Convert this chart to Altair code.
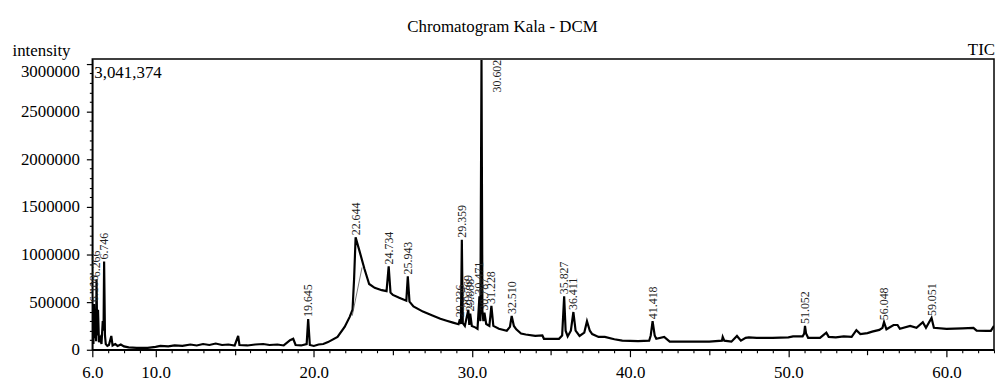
import altair as alt
import pandas as pd

title_text = "Chromatogram Kala - DCM"
y_title = "intensity"
max_label = "3,041,374"
tic_text = "TIC"

# unlabeled trace points (retention time in min, intensity)
base_t = [6.00, 6.04, 6.07, 6.15, 6.20, 6.24, 6.31, 6.36, 6.42, 6.50, 6.58, 6.66, 6.71,
          6.80, 6.85, 6.95, 7.05, 7.20, 7.28, 7.45, 7.60, 7.80, 8.00, 8.30, 8.80, 9.50,
          10.0, 10.3, 10.8, 11.2, 11.7, 12.2, 12.6, 13.0, 13.4, 13.8, 14.2, 14.6, 15.0,
          15.22, 15.3, 15.8, 16.3, 16.8, 17.2, 17.7, 18.1, 18.5, 18.7, 18.85, 19.2, 19.55,
          19.75, 20.0, 20.3, 20.6, 20.9, 21.5, 21.95, 22.27, 22.45, 22.55,
          22.9, 23.2, 23.5, 23.85, 24.3, 24.6, 24.85, 25.0, 25.4, 25.85, 26.05, 26.3,
          26.9, 27.5, 28.0, 28.4, 28.8, 29.15, 29.3, 29.42, 29.55, 29.83, 29.99, 30.2,
          30.35, 30.53, 30.66, 30.72, 30.9, 31.1, 31.35, 31.7, 32.2, 32.4, 32.65, 32.8,
          33.1, 33.4, 34.0, 34.45, 34.55, 35.0, 35.5, 35.7, 35.92, 36.05, 36.25, 36.55,
          36.8, 37.1, 37.27, 37.45, 37.6, 38.0, 38.4, 39.0, 39.5, 40.5, 41.2, 41.3,
          41.55, 41.65, 42.15, 42.5, 43.5, 45.0, 45.8, 45.85, 45.95, 46.4, 46.75, 47.0,
          47.3, 47.5, 48.0, 49.0, 50.0, 50.3, 50.9, 51.0, 51.12, 51.25, 52.0, 52.4,
          52.55, 53.0, 53.5, 54.0, 54.3, 54.55, 55.0, 55.3, 55.75, 55.95, 56.2, 56.65,
          56.9, 57.05, 57.7, 58.1, 58.5, 58.7, 59.2, 60.0, 61.0, 61.7, 61.9, 62.5,
          62.8, 63.0]
base_i = [120000, 210000, 60000, 120000, 300000, 90000, 150000, 420000, 80000, 120000, 60000, 300000, 200000,
          150000, 60000, 40000, 50000, 145000, 45000, 60000, 40000, 55000, 35000, 25000, 20000, 20000,
          30000, 40000, 35000, 45000, 40000, 55000, 45000, 60000, 50000, 65000, 50000, 55000, 45000,
          145000, 50000, 45000, 55000, 60000, 50000, 55000, 45000, 100000, 115000, 50000, 45000, 60000,
          50000, 40000, 55000, 60000, 80000, 135000, 240000, 345000, 420000, 750000,
          1030000, 850000, 690000, 650000, 625000, 615000, 600000, 575000, 545000, 515000, 505000, 455000,
          400000, 360000, 325000, 305000, 285000, 268000, 270000, 280000, 250000, 260000, 250000, 235000,
          220000, 300000, 400000, 300000, 270000, 250000, 250000, 220000, 200000, 240000, 250000, 215000,
          170000, 160000, 145000, 150000, 115000, 115000, 115000, 150000, 200000, 140000, 200000, 200000,
          145000, 180000, 300000, 200000, 165000, 135000, 135000, 110000, 95000, 90000, 95000, 150000,
          150000, 115000, 135000, 85000, 85000, 85000, 95000, 135000, 95000, 85000, 145000, 95000,
          125000, 130000, 125000, 125000, 130000, 140000, 140000, 170000, 170000, 125000, 125000, 180000,
          135000, 130000, 140000, 135000, 205000, 165000, 175000, 190000, 208000, 230000, 215000, 260000,
          260000, 220000, 250000, 230000, 290000, 230000, 230000, 220000, 225000, 229000, 200000, 198000,
          198000, 250000]

# labelled peaks
peak_names = ["6.108", "6.266", "6.746", "19.645", "22.644", "24.734", "25.943", "29.236",
              "29.359", "29.769", "29.888", "30.471", "30.602", "30.787", "31.228", "32.510",
              "35.827", "36.411", "41.418", "51.052", "56.048", "59.051"]
peak_t = [6.108, 6.266, 6.746, 19.645, 22.644, 24.734, 25.943, 29.236,
          29.359, 29.769, 29.888, 30.471, 30.602, 30.787, 31.228, 32.510,
          35.827, 36.411, 41.418, 51.052, 56.048, 59.051]
peak_i = [480000, 740000, 926000, 323000, 1180000, 875000, 770000, 320000,
          1155000, 420000, 380000, 560000, 3041374, 390000, 460000, 354000,
          562000, 396000, 300000, 250000, 290000, 333000]

# thin integration baseline drawn under the 22.644 peak
integ_t = [22.43, 23.05]
integ_i = [357000, 864000]

x_major = [6, 10, 20, 30, 40, 50, 60]
x_mid = [15, 25, 35, 45, 55]
x_minor = [v for v in range(7, 64) if v % 5 != 0]
y_major = list(range(0, 3000001, 500000))
y_minor = [v for v in range(0, 3000001, 100000) if v % 500000 != 0]

SERIF = "Liberation Serif"

trace = pd.DataFrame({"t": base_t + peak_t, "I": base_i + peak_i}).sort_values("t")
peaks = pd.DataFrame({"name": peak_names, "t": peak_t, "I": peak_i})
integ = pd.DataFrame({"t": integ_t, "I": integ_i})

xs = alt.Scale(domain=[6.0, 63.0], nice=False, zero=False)
ys = alt.Scale(domain=[0, 3050000], nice=False, zero=False)

x_main = alt.Axis(values=x_major, format=".1f", tickSize=7, tickColor="black", tickWidth=1.2,
                  domainColor="black", domainWidth=1.5, labelFont=SERIF, labelFontSize=17,
                  labelColor="black", labelPadding=8, grid=False, title=None,
                  labelFlush=False, labelOverlap=False)
y_main = alt.Axis(values=y_major, format="d", tickSize=6, tickColor="black", tickWidth=1.2,
                  domainColor="black", domainWidth=1.5, labelFont=SERIF, labelFontSize=17,
                  labelColor="black", labelPadding=7, grid=False, labelFlush=False,
                  labelBaseline={"condition": {"test": "datum.value >= 3000000", "value": "top"},
                                 "value": "middle"},
                  labelOverlap=False, title=y_title, titleAngle=0, titleX=-81, titleY=-4,
                  titleAlign="left", titleBaseline="alphabetic", titleFont=SERIF,
                  titleFontSize=17, titleFontWeight="normal", titleColor="black")

line = alt.Chart(trace).mark_line(color="black", strokeWidth=2.2, clip=True).encode(
    x=alt.X("t:Q", scale=xs, axis=x_main),
    y=alt.Y("I:Q", scale=ys, axis=y_main),
)

integ_line = alt.Chart(integ).mark_line(color="#555", strokeWidth=0.8).encode(
    x=alt.X("t:Q", scale=xs, axis=None),
    y=alt.Y("I:Q", scale=ys, axis=None),
)

labels_low = alt.Chart(peaks).transform_filter("datum.I < 2700000").mark_text(
    angle=270, align="left", baseline="middle", dx=2, font=SERIF, fontSize=12, color="#222"
).encode(
    x=alt.X("t:Q", scale=xs, axis=None),
    y=alt.Y("I:Q", scale=ys, axis=None),
    text="name:N",
)

labels_top = alt.Chart(peaks).transform_filter("datum.I >= 2700000").transform_calculate(
    ly="2700000"
).mark_text(
    angle=270, align="left", baseline="middle", dy=16, font=SERIF, fontSize=12, color="#222"
).encode(
    x=alt.X("t:Q", scale=xs, axis=None),
    y=alt.Y("ly:Q", scale=ys, axis=None),
    text="name:N",
)

max_text = alt.Chart(pd.DataFrame({"s": [max_label]})).mark_text(
    align="left", baseline="top", font=SERIF, fontSize=17, color="black"
).encode(x=alt.value(2), y=alt.value(6), text="s:N")

tic = alt.Chart(pd.DataFrame({"s": [tic_text]})).mark_text(
    align="right", baseline="alphabetic", font=SERIF, fontSize=17, color="black"
).encode(x=alt.value(910), y=alt.value(-4), text="s:N")

minor = alt.Chart(trace).mark_point(opacity=0).encode(
    x=alt.X("t:Q", scale=xs, axis=alt.Axis(values=x_minor, labels=False, domain=False, tickSize=3,
                                           tickColor="black", tickWidth=1.1, grid=False, title=None,
                                           orient="bottom")),
    y=alt.Y("I:Q", scale=ys, axis=alt.Axis(values=y_minor, labels=False, domain=False, tickSize=3,
                                           tickColor="black", tickWidth=1.1, grid=False, title=None,
                                           orient="left")),
)

mid = alt.Chart(trace).mark_point(opacity=0).encode(
    x=alt.X("t:Q", scale=xs, axis=alt.Axis(values=x_mid, labels=False, domain=False, tickSize=5,
                                           tickColor="black", tickWidth=1.2, grid=False, title=None,
                                           orient="bottom")),
    y=alt.Y("I:Q", scale=ys, axis=None),
)

chart = alt.layer(line, integ_line, labels_low, labels_top, max_text, tic, minor, mid).resolve_axis(
    x="independent", y="independent"
).properties(
    width=909,
    height=293,
    autosize=alt.AutoSizeParams(type="none"),
    padding={"left": 85, "top": 50, "right": 1, "bottom": 32},
    title=alt.TitleParams(title_text, font=SERIF, fontSize=17, fontWeight="normal", color="black",
                          anchor="middle", frame="group", dx=-41, offset=5),
).configure_view(stroke="black", strokeWidth=1.5)

chart.save("out.html", embed_options={"renderer": "svg", "actions": False})
